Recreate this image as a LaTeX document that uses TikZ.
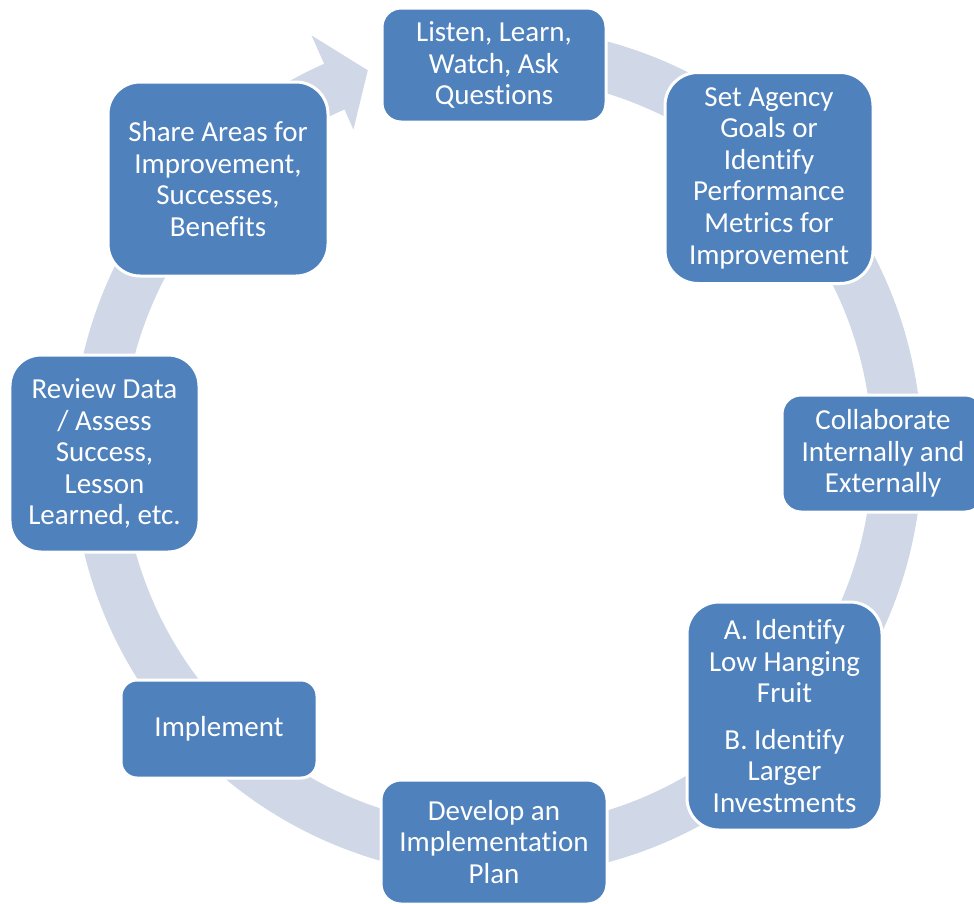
\documentclass[tikz,border=0pt]{standalone}
\usepackage{fontspec}
\setmainfont{Carlito}[Ligatures=NoCommon]
\usetikzlibrary{calc}
\definecolor{cyblue}{HTML}{4F81BD}
\definecolor{cyring}{HTML}{D0D8E8}
\tikzset{
  cyclebox/.style={
    draw=white, fill=cyblue, text=white, line width=0.06cm,
    rounded corners=#1, align=center, inner sep=0pt,
    font=\fontsize{16.5}{18}\selectfont},
  cyclebox/.default=0.38cm,
}

\begin{document}
\begin{tikzpicture}[x=0.02cm, y=-0.02cm]

% Page frame, in pixel units (y grows downwards).
\clip (0,0) rectangle (974,903);
\useasboundingbox (0,0) rectangle (974,903);

% Ring with its arrowhead, clockwise; the tail sits behind the first box.
\coordinate (ctr) at (497,452);
\fill[cyring] ($(ctr)+(-100:425)$)
  arc[start angle=-100, end angle=246, radius=425]
  -- ($(ctr)+(246:456)$) -- ($(ctr)+(251.3:403)$)
  -- ($(ctr)+(246:353)$) -- ($(ctr)+(246:375)$)
  arc[start angle=246, end angle=-100, radius=375] -- cycle;

% Steps of the cycle.
\node[cyclebox, minimum width=224*0.02cm, minimum height=114*0.02cm]
  (listen) at (494,65) {Listen, Learn,\\Watch, Ask\\Questions};
\node[cyclebox=0.66cm, minimum width=208*0.02cm, minimum height=211*0.02cm]
  (goals) at (769,178)
  {Set Agency\\Goals or\\Identify\\Performance\\Metrics for\\Improvement};
\node[cyclebox, minimum width=202*0.02cm, minimum height=117*0.02cm]
  (collab) at (883,453.5) {Collaborate\\Internally and\\Externally};
\node[cyclebox=0.64cm, minimum width=195*0.02cm, minimum height=228*0.02cm]
  (fruit) at (784.5,716)
  {A. Identify\\Low Hanging\\Fruit\\[0.3cm]B. Identify\\Larger\\Investments};
\node[cyclebox=0.4cm, minimum width=226*0.02cm, minimum height=124*0.02cm]
  (plan) at (494,842) {Develop an\\Implementation\\Plan};
\node[cyclebox=0.32cm, minimum width=196*0.02cm, minimum height=98*0.02cm]
  (implement) at (219,729) {Implement};
\node[cyclebox=0.62cm, minimum width=189*0.02cm, minimum height=197*0.02cm]
  (review) at (104.5,453.5)
  {Review Data\\/ Assess\\Success,\\Lesson\\Learned, etc.};
\node[cyclebox=0.64cm, minimum width=220*0.02cm, minimum height=194*0.02cm]
  (share) at (218,179)
  {Share Areas for\\Improvement,\\Successes,\\Benefits};

\end{tikzpicture}
\end{document}
